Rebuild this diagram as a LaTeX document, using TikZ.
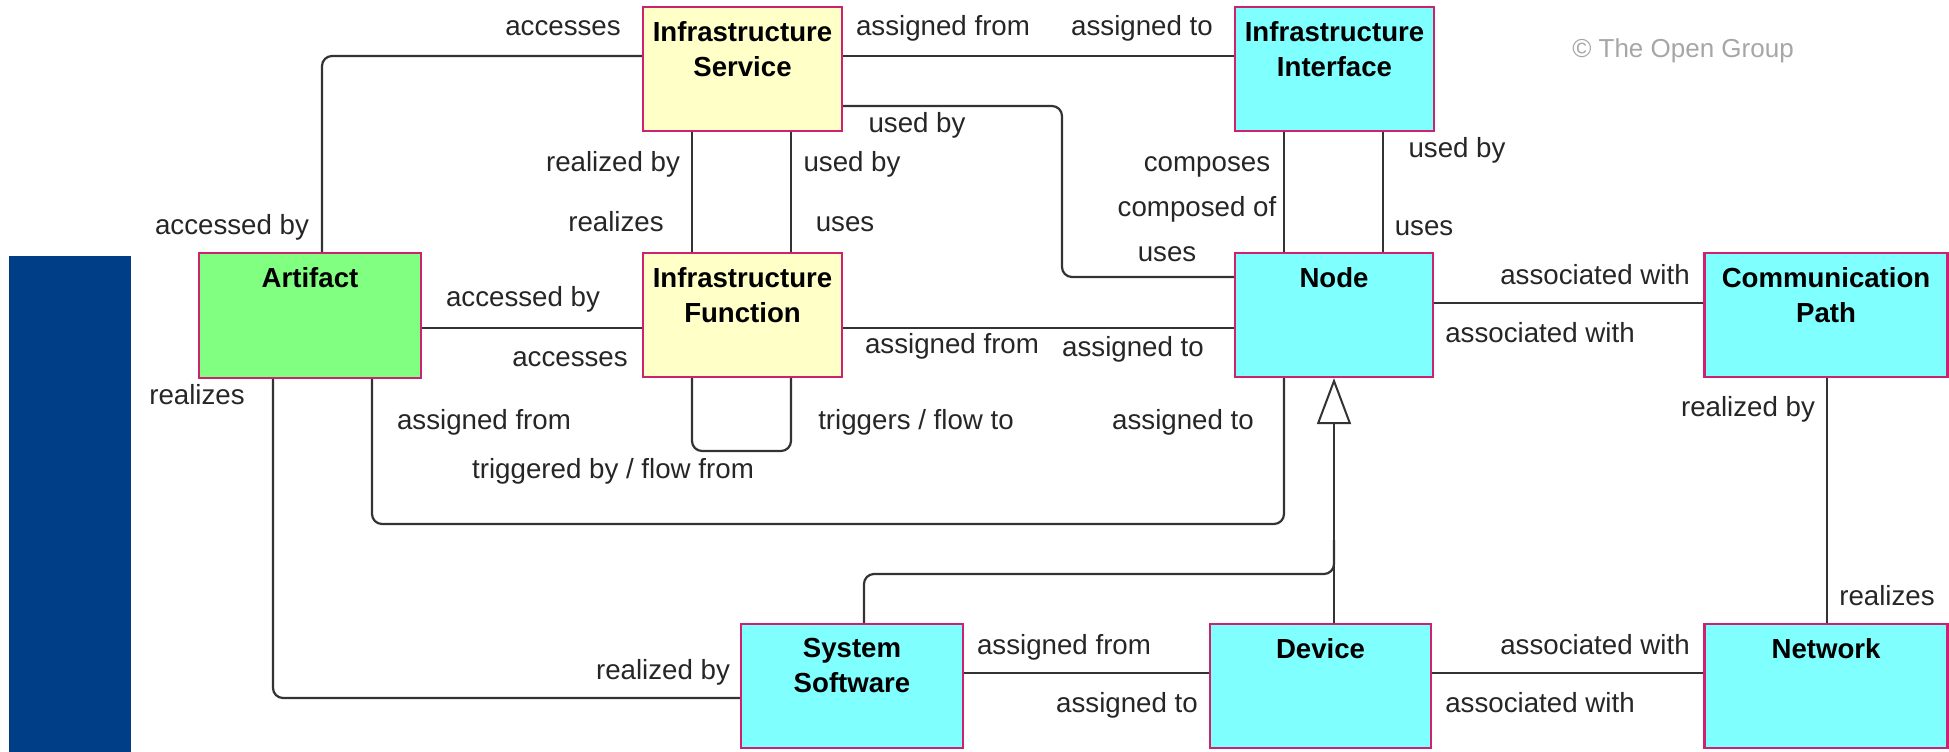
\documentclass[tikz,border=0pt]{standalone}
\usepackage{fontspec}
\setmainfont{Liberation Sans}
\usetikzlibrary{arrows.meta}
\definecolor{bord}{RGB}{204,34,112}
\definecolor{yel}{RGB}{255,255,200}
\definecolor{cya}{RGB}{128,255,255}
\definecolor{grn}{RGB}{128,255,128}
\definecolor{barblue}{RGB}{0,63,135}
\definecolor{lnc}{RGB}{51,51,51}
\tikzset{
  elem/.style={draw=bord, line width=2.2pt, inner sep=0pt},
  ttl/.style={font=\bfseries\fontsize{27.6pt}{35pt}\selectfont, align=center, inner sep=0pt, anchor=north},
  lbl/.style={font=\fontsize{27.7pt}{33pt}\selectfont, text=black!85, inner sep=0pt, text height=0.72em, text depth=0.2em, yshift=-7pt},
  conn/.style={draw=lnc, line width=2.2pt, rounded corners=10pt},
}
\begin{document}
\begin{tikzpicture}[x=1pt,y=-1pt]
\useasboundingbox (0,0) rectangle (1949,752);
\fill[barblue] (9,256) rectangle (131,752);

% elements
\node[elem, fill=yel, minimum width=199pt, minimum height=124pt] (svc) at (742.5,69) {};
\node[elem, fill=cya, minimum width=199pt, minimum height=124pt] (intf) at (1334.5,69) {};
\node[elem, fill=grn, minimum width=222pt, minimum height=125pt] (art) at (310,315.5) {};
\node[elem, fill=yel, minimum width=199pt, minimum height=124pt] (fn) at (742.5,315) {};
\node[elem, fill=cya, minimum width=198pt, minimum height=124pt] (node) at (1334,315) {};
\node[elem, fill=cya, minimum width=243pt, minimum height=124pt] (comm) at (1826,315) {};
\node[elem, fill=cya, minimum width=222pt, minimum height=124pt] (sys) at (852,686) {};
\node[elem, fill=cya, minimum width=221pt, minimum height=124pt] (dev) at (1320.5,686) {};
\node[elem, fill=cya, minimum width=243pt, minimum height=124pt] (net) at (1826,686) {};

% titles
\node[ttl] (svct) at ([yshift=-15.5pt]svc.north) {Infrastructure\\Service};
\node[ttl] (intft) at ([yshift=-15.5pt]intf.north) {Infrastructure\\Interface};
\node[ttl] (artt) at ([yshift=-15.5pt]art.north) {Artifact};
\node[ttl] (fnt) at ([yshift=-15.5pt]fn.north) {Infrastructure\\Function};
\node[ttl] (nodet) at ([yshift=-15.5pt]node.north) {Node};
\node[ttl] (commt) at ([yshift=-15.5pt]comm.north) {Communication\\Path};
\node[ttl] (syst) at ([yshift=-15.5pt]sys.north) {System\\Software};
\node[ttl] (devt) at ([yshift=-15.5pt]dev.north) {Device};
\node[ttl] (nett) at ([yshift=-15.5pt]net.north) {Network};

% connectors
\draw[conn] (svc.west |- 0,56) -| (art.north -| 322,0);
\draw[conn] (svc.east |- 0,56) -- (intf.west |- 0,56);
\draw[conn] (svc.east |- 0,106) -- (1062,106) -- (1062,277) -- (node.west |- 0,277);
\draw[conn] (svc.south -| 692,0) -- (fn.north -| 692,0);
\draw[conn] (svc.south -| 791,0) -- (fn.north -| 791,0);
\draw[conn] (art.east |- 0,328) -- (fn.west |- 0,328);
\draw[conn] (fn.east |- 0,328) -- (node.west |- 0,328);
\draw[conn] (fn.south -| 692,0) -- (692,451) -- (791,451) -- (fn.south -| 791,0);
\draw[conn] (intf.south -| 1284,0) -- (node.north -| 1284,0);
\draw[conn] (intf.south -| 1383,0) -- (node.north -| 1383,0);
\draw[conn] (node.east |- 0,303) -- (comm.west |- 0,303);
\draw[conn] (art.south -| 372,0) -- (372,524) -- (1284,524) -- (node.south -| 1284,0);
\draw[conn] (art.south -| 273,0) -- (273,698) -- (sys.west |- 0,698);
\draw[conn] (sys.north -| 864,0) -- (864,574) -- (1334,574) -- (1334,540);
\draw[conn, rounded corners=0pt, -{Triangle[open, length=46pt, width=34pt, line width=2pt]}] (dev.north -| 1334,0) -- (node.south -| 1334,0);
\draw[conn] (comm.south -| 1827,0) -- (net.north -| 1827,0);
\draw[conn] (sys.east |- 0,673) -- (dev.west |- 0,673);
\draw[conn] (dev.east |- 0,673) -- (net.west |- 0,673);

% labels
\node[lbl] (l1) at (563,26) {accesses};
\node[lbl] (l2) at (943,26) {assigned from};
\node[lbl] (l3) at (1142,26) {assigned to};
\node[lbl] (l4) at (917,123) {used by};
\node[lbl] (l5) at (613,162) {realized by};
\node[lbl] (l6) at (852,162) {used by};
\node[lbl] (l7) at (232,225) {accessed by};
\node[lbl] (l8) at (616,222) {realizes};
\node[lbl] (l9) at (845,222) {uses};
\node[lbl] (l10) at (523,297) {accessed by};
\node[lbl] (l11) at (570,357) {accesses};
\node[lbl] (l12) at (952,344) {assigned from};
\node[lbl] (l13) at (1457,148) {used by};
\node[lbl] (l14) at (1207,162) {composes};
\node[lbl] (l15) at (1197,207) {composed of};
\node[lbl] (l16) at (1167,252) {uses};
\node[lbl] (l17) at (1424,226) {uses};
\node[lbl] (l18) at (1595,275) {associated with};
\node[lbl] (l19) at (1540,333) {associated with};
\node[lbl] (l20) at (1133,347) {assigned to};
\node[lbl] (l21) at (197,395) {realizes};
\node[lbl] (l22) at (484,420) {assigned from};
\node[lbl] (l23) at (916,420) {triggers / flow to};
\node[lbl] (l24) at (613,469) {triggered by / flow from};
\node[lbl] (l25) at (663,670) {realized by};
\node[lbl] (l26) at (1183,420) {assigned to};
\node[lbl] (l27) at (1748,407) {realized by};
\node[lbl] (l28) at (1887,596) {realizes};
\node[lbl] (l29) at (1064,645) {assigned from};
\node[lbl] (l30) at (1127,703) {assigned to};
\node[lbl] (l31) at (1595,645) {associated with};
\node[lbl] (l32) at (1540,703) {associated with};
\node[lbl, text=black!35, font=\fontsize{26pt}{30pt}\selectfont] (copy) at (1683,48) {© The Open Group};
\end{tikzpicture}
\end{document}
